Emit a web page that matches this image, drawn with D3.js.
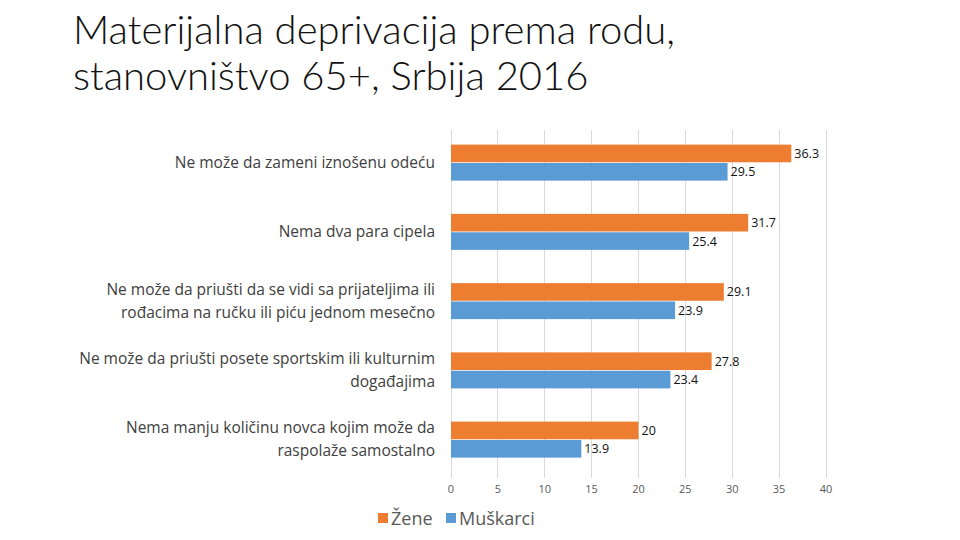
<!DOCTYPE html>
<html><head><meta charset="utf-8">
<script src="https://cdn.jsdelivr.net/npm/d3@7"></script>
<style>body{margin:0;background:#fff}</style>
</head><body><svg id="c" width="960" height="540"></svg>
<script>
const categories = [
  ["Ne može da zameni iznošenu odeću"],
  ["Nema dva para cipela"],
  ["Ne može da priušti da se vidi sa prijateljima ili", "rođacima na ručku ili piću jednom mesečno"],
  ["Ne može da priušti posete sportskim ili kulturnim", "događajima"],
  ["Nema manju količinu novca kojim može da", "raspolaže samostalno"]
];
const zene = [36.3, 31.7, 29.1, 27.8, 20];
const muskarci = [29.5, 25.4, 23.9, 23.4, 13.9];
const ticks = [0, 5, 10, 15, 20, 25, 30, 35, 40];
const seriesNames = ["Žene", "Muškarci"];
const colors = ["#ED7D31", "#5B9BD5"];

const svg = d3.select("#c");
const font = "'Open Sans', 'Liberation Sans', sans-serif";
const titleFont = "Lato, 'Open Sans', sans-serif";

const t1 = svg.append("text").attr("x", 73).attr("y", 44).attr("font-family", titleFont).attr("font-weight", 300)
  .attr("font-size", 38).attr("fill", "#111").text("Materijalna deprivacija prema rodu,");
const t2 = svg.append("text").attr("x", 73).attr("y", 90).attr("font-family", titleFont).attr("font-weight", 300)
  .attr("font-size", 38).attr("fill", "#111").text("stanovništvo 65+, Srbija 2016");
// fit title line 1 to the reference width (~631px)
const w1 = t1.node().getComputedTextLength();
if (w1 > 0) {
  const fs = Math.min(40, 38 * 631 / w1);
  t1.attr("font-size", fs); t2.attr("font-size", fs);
}

const x = d3.scaleLinear().domain([0, 40]).range([451, 826]);
const y = d3.scaleBand().domain(d3.range(5)).range([128, 474.25]);
const sub = d3.scaleBand().domain([0, 1]).range([0, 36]).paddingInner(0.04);

const g = svg.append("g");
g.selectAll("line.grid").data(ticks).enter().append("line")
  .attr("x1", d => x(d)).attr("x2", d => x(d)).attr("y1", 130).attr("y2", 478)
  .attr("stroke", "#d9d9d9").attr("stroke-width", 1).attr("shape-rendering", "crispEdges");

g.selectAll("text.tick").data(ticks).enter().append("text")
  .attr("x", d => x(d)).attr("y", 493).attr("text-anchor", "middle")
  .attr("font-family", font).attr("font-size", 11).attr("fill", "#595959").text(d => d);

const data = [zene, muskarci];
data.forEach((vals, s) => {
  g.selectAll("rect.s" + s).data(vals).enter().append("rect")
    .attr("x", x(0)).attr("width", d => x(d) - x(0))
    .attr("y", (d, i) => y(i) + y.bandwidth() / 2 - 18 + sub(s))
    .attr("height", sub.bandwidth()).attr("fill", colors[s]);
  g.selectAll("text.v" + s).data(vals).enter().append("text")
    .attr("x", d => x(d) + 3)
    .attr("y", (d, i) => y(i) + y.bandwidth() / 2 - 18 + sub(s) + sub.bandwidth() / 2 + 4.5)
    .attr("font-family", font).attr("font-size", 12.5).attr("fill", "#111").text(d => d);
});

categories.forEach((lines, i) => {
  const cy = y(i) + y.bandwidth() / 2;
  const n = lines.length;
  lines.forEach((l, k) => {
    svg.append("text").attr("x", 435).attr("y", cy + 5 + (k - (n - 1) / 2) * 23)
      .attr("text-anchor", "end").attr("font-family", font).attr("font-size", 15.5)
      .attr("fill", "#404040").text(l);
  });
});

const leg = svg.append("g");
const legX = [378, 446];
seriesNames.forEach((nm, i) => {
  leg.append("rect").attr("x", legX[i]).attr("y", 513).attr("width", 10).attr("height", 10).attr("fill", colors[i]);
  leg.append("text").attr("x", legX[i] + 13).attr("y", 525).attr("font-family", font).attr("font-size", 18)
    .attr("fill", "#595959").text(nm);
});
</script></body></html>
